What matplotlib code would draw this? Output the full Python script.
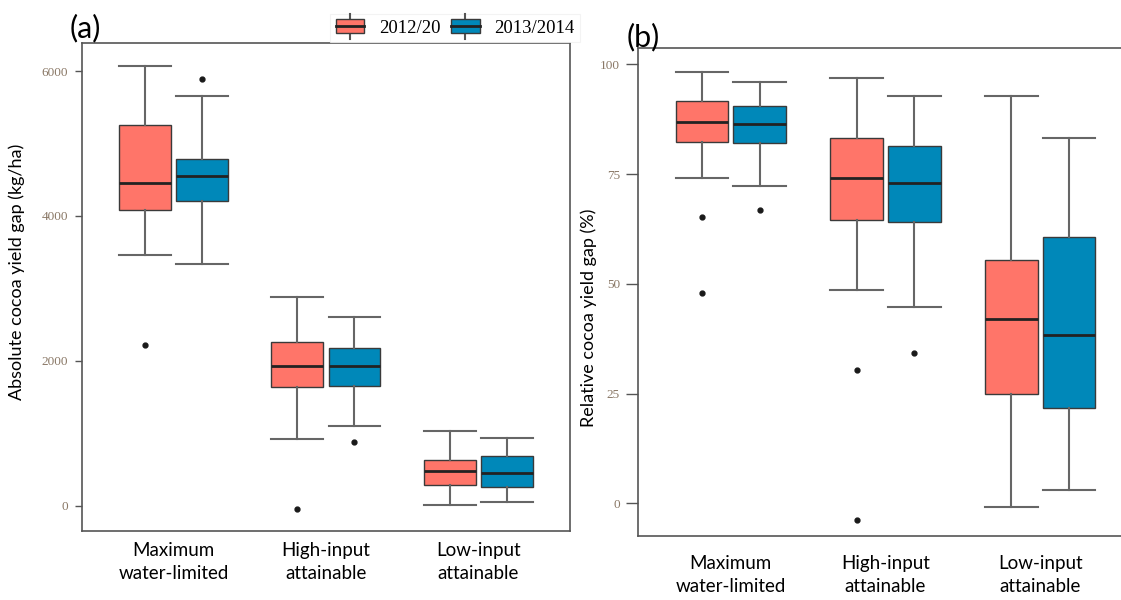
import numpy as np
import matplotlib.pyplot as plt
from matplotlib.legend_handler import HandlerBase
from matplotlib.patches import Rectangle
from matplotlib.lines import Line2D

# categories and series
groups = ['Maximum\nwater-limited', 'High-input\nattainable', 'Low-input\nattainable']
series = ['2012/20', '2013/2014']
colors = ['#FF7569', '#0088B9']

# (a) absolute yield gap, kg/ha: whislo, q1, med, q3, whishi
abs_2012 = [[3467, 4087, 4460, 5260, 6073],
            [920, 1646, 1931, 2262, 2878],
            [14, 294, 483, 630, 1034]]
abs_2013 = [[3338, 4202, 4556, 4786, 5655],
            [1103, 1655, 1931, 2175, 2611],
            [60, 267, 455, 690, 938]]
abs_fliers_2012 = [[2221], [-46], []]
abs_fliers_2013 = [[5890], [878], []]

# (b) relative yield gap, %
rel_2012 = [[74.2, 82.3, 86.9, 91.6, 98.3],
            [48.5, 64.6, 74.1, 83.3, 96.8],
            [-0.8, 24.8, 41.9, 55.4, 92.8]]
rel_2013 = [[72.3, 82.0, 86.5, 90.5, 96.0],
            [44.7, 64.1, 73.0, 81.4, 92.8],
            [3.1, 21.7, 38.4, 60.7, 83.3]]
rel_fliers_2012 = [[65.2, 47.9], [30.4, -3.9], []]
rel_fliers_2013 = [[66.9], [34.2], []]


def make_stats(rows, fliers):
    out = []
    for r, f in zip(rows, fliers):
        out.append(dict(whislo=r[0], q1=r[1], med=r[2], q3=r[3], whishi=r[4],
                        fliers=np.array(f)))
    return out


def draw_boxes(ax, data, fliers):
    x = np.arange(1, len(groups) + 1)
    off = 0.187
    w = 0.34
    for i in range(2):
        ax.bxp(make_stats(data[i], fliers[i]), positions=x + (2 * i - 1) * off,
               widths=w, capwidths=w, patch_artist=True, manage_ticks=False,
               boxprops=dict(facecolor=colors[i], edgecolor='#3a3a3a', linewidth=1.0),
               medianprops=dict(color='#222222', linewidth=2.0),
               whiskerprops=dict(color='#666666', linewidth=1.5),
               capprops=dict(color='#666666', linewidth=1.5),
               flierprops=dict(marker='o', markerfacecolor='#1a1a1a',
                               markeredgecolor='#1a1a1a', markersize=3.5))
    ax.set_xlim(0.4, 3.6)
    ax.set_xticks(x)
    ax.set_xticklabels(groups, fontsize=13.5, family='Lato', linespacing=1.4)
    ax.tick_params(axis='x', length=0, pad=8)
    for s in ax.spines.values():
        s.set_color('#555555')
        s.set_linewidth(1.2)


class BoxHandler(HandlerBase):
    def create_artists(self, legend, orig_handle, xdescent, ydescent,
                       width, height, fontsize, trans):
        c = orig_handle.get_facecolor()
        bh = height * 1.1
        y0 = (height - bh) / 2
        wl = Line2D([width / 2, width / 2], [-height * 0.45, height * 1.45],
                    color='#555555', lw=1.5, transform=trans)
        r = Rectangle((0, y0), width, bh, facecolor=c, edgecolor='#3a3a3a',
                      lw=1.0, transform=trans)
        m = Line2D([0, width], [height / 2, height / 2], color='#222222',
                   lw=2.0, transform=trans)
        return [wl, r, m]


fig = plt.figure(figsize=(11.21, 6), dpi=100)
ax1 = fig.add_axes([0.0731, 0.115, 0.4353, 0.8133])
ax2 = fig.add_axes([0.5691, 0.1067, 0.4416, 0.8133])

draw_boxes(ax1, [abs_2012, abs_2013], [abs_fliers_2012, abs_fliers_2013])
ax1.set_ylim(-345, 6386)
ax1.set_yticks([0, 2000, 4000, 6000])
ax1.tick_params(axis='y', length=5, width=1, color='#555555', pad=5,
                labelsize=9.5, labelcolor='#8a7866')
for t in ax1.get_yticklabels():
    t.set_family('Liberation Serif')
ax1.set_ylabel('Absolute cocoa yield gap (kg/ha)', fontsize=13, family='Lato')
ax1.yaxis.set_label_coords(-0.117, 0.531)

draw_boxes(ax2, [rel_2012, rel_2013], [rel_fliers_2012, rel_fliers_2013])
ax2.set_ylim(-7.45, 103.7)
ax2.set_yticks([0, 25, 50, 75, 100])
ax2.tick_params(axis='y', length=9, width=1, color='#555555', pad=4,
                labelsize=9.5, labelcolor='#8a7866')
for t in ax2.get_yticklabels():
    t.set_family('Liberation Serif')
ax2.tick_params(axis='x', pad=14)
ax2.set_ylabel('Relative cocoa yield gap (%)', fontsize=13, family='Lato')
ax2.yaxis.set_label_coords(-0.083, 0.447)

fig.text(0.0625, 0.953, '(a)', fontsize=22, family='Lato', va='center')
fig.text(0.559, 0.938, '(b)', fontsize=22, family='Lato', va='center')

handles = [Rectangle((0, 0), 1, 1, facecolor=c) for c in colors]
leg = fig.legend(handles, series, handler_map={Rectangle: BoxHandler()},
                 loc='center', bbox_to_anchor=(0.406, 0.953), ncol=2,
                 prop={'family': 'Liberation Serif', 'size': 13.5},
                 handlelength=1.5, handleheight=0.7, handletextpad=0.8,
                 columnspacing=0.6, frameon=True, fancybox=False,
                 borderpad=0.3)
leg.get_frame().set_edgecolor('#f0f0f0')
leg.get_frame().set_linewidth(0.8)

fig.savefig('out.png', dpi=100, facecolor='white')
